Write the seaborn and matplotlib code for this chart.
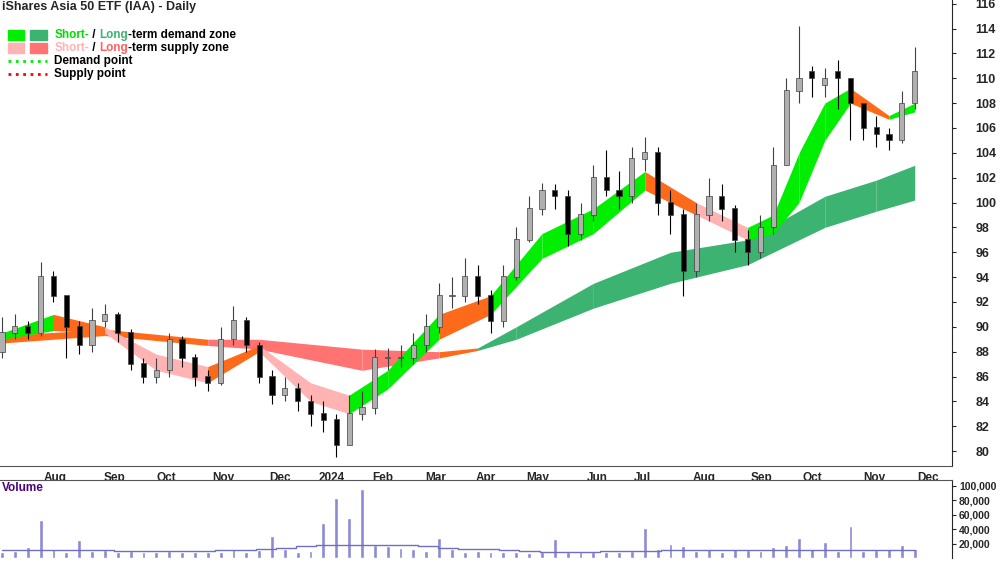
import matplotlib
matplotlib.use("Agg")
import matplotlib.pyplot as plt
import numpy as np
import seaborn as sns

sns.set_style("white")
plt.rcParams['font.family'] = ['Liberation Sans', 'DejaVu Sans']

# weekly candles
close = [89.5, 90.0, 89.5, 94.0, 92.5, 90.0, 88.5, 90.5, 91.0, 89.5, 87.0, 86.0,
         86.5, 89.0, 87.5, 86.0, 85.5, 89.0, 90.5, 88.5, 86.0, 84.5, 85.0, 84.0,
         83.0, 82.5, 80.5, 83.0, 83.5, 87.5, 87.5, 87.5, 88.5, 90.0, 92.5, 92.5,
         94.0, 92.5, 90.5, 94.0, 97.0, 99.5, 101.0, 100.5, 97.5, 99.0, 102.0, 101.0,
         100.5, 103.5, 104.0, 100.0, 99.0, 94.5, 99.0, 100.5, 99.5, 97.0, 96.0, 98.0,
         103.0, 109.0, 110.0, 110.0, 110.0, 110.0, 108.0, 106.0, 105.5, 105.0, 108.0, 110.5]
open_ = [88.0, 89.5, 90.0, 89.5, 94.0, 92.5, 90.0, 88.5, 90.5, 91.0, 89.5, 87.0,
         86.0, 86.5, 89.0, 87.5, 86.0, 85.5, 89.0, 90.5, 88.5, 86.0, 84.5, 85.0,
         84.0, 83.0, 82.5, 80.5, 83.0, 83.5, 87.5, 87.5, 87.5, 88.5, 90.0, 92.5,
         92.5, 94.0, 92.5, 90.5, 94.0, 97.0, 99.5, 101.0, 100.5, 97.5, 99.0, 102.0,
         101.0, 100.5, 103.5, 104.0, 100.0, 99.0, 94.5, 99.0, 100.5, 99.5, 97.0, 96.0,
         98.0, 103.0, 109.0, 110.5, 109.5, 110.5, 110.0, 108.0, 106.0, 105.5, 105.0, 108.0]
high = [90.8, 91.0, 90.5, 95.2, 94.5, 92.5, 90.5, 91.5, 91.8, 91.2, 89.8, 87.5,
        87.5, 89.5, 89.3, 87.8, 86.5, 90.0, 91.7, 90.8, 88.8, 86.5, 86.0, 85.5,
        84.5, 84.0, 83.0, 84.5, 84.8, 88.2, 88.3, 88.5, 89.5, 91.0, 93.5, 94.0,
        95.5, 95.0, 93.0, 95.0, 98.0, 100.5, 101.6, 101.5, 101.0, 100.0, 103.0, 104.2,
        102.5, 104.5, 105.3, 104.5, 101.0, 99.5, 100.0, 102.0, 101.5, 99.8, 97.8, 99.0,
        104.5, 110.0, 114.2, 111.0, 110.8, 111.5, 110.0, 107.5, 107.0, 106.0, 109.0, 112.5]
low = [87.5, 89.0, 89.0, 89.3, 92.0, 87.5, 87.8, 88.0, 90.0, 88.8, 86.5, 85.5,
       85.5, 86.0, 86.8, 85.2, 84.8, 85.3, 88.5, 88.0, 85.5, 83.8, 84.0, 83.2,
       82.0, 81.5, 79.5, 80.5, 82.5, 83.0, 86.5, 86.8, 87.0, 88.0, 89.5, 91.5,
       92.0, 91.8, 89.5, 90.0, 93.8, 96.8, 99.0, 99.5, 96.5, 97.0, 98.5, 100.5,
       99.5, 100.0, 102.5, 99.0, 97.5, 92.5, 94.0, 98.5, 98.5, 96.0, 95.0, 95.5,
       97.5, 103.0, 108.0, 108.5, 108.5, 107.5, 105.0, 105.0, 104.5, 104.2, 104.8, 107.5]

# short- and long-term zone edges at sample weeks
short_wk = [0, 4, 8, 12, 16, 20, 24, 27, 30, 34, 38, 42, 46, 50, 54, 58, 60, 62, 64, 66, 69, 71]
short_hi = [89.5, 91.0, 90.0, 87.8, 86.8, 88.5, 85.5, 84.5, 86.5, 91.0, 92.5, 97.5, 99.5, 102.5, 100.0, 98.0, 99.0, 104.0, 108.0, 109.2, 107.0, 108.0]
short_lo = [89.0, 89.7, 89.5, 86.5, 85.5, 88.0, 84.0, 83.0, 85.0, 89.0, 91.0, 95.5, 97.5, 101.0, 99.0, 97.0, 97.5, 100.0, 105.0, 108.0, 106.7, 107.3]
short_col = ['g', 'o', 'p', 'p', 'o', 'p', 'p', 'g', 'g', 'o', 'g', 'g', 'g', 'o', 'p', 'g', 'g', 'g', 'g', 'o', 'g']
long_wk = [0, 8, 16, 20, 28, 34, 37, 40, 46, 52, 58, 64, 68, 71]
long_hi = [89.3, 89.8, 89.0, 89.0, 88.2, 88.0, 88.3, 90.0, 93.5, 96.0, 97.0, 100.5, 101.8, 103.0]
long_lo = [88.7, 89.3, 88.5, 88.2, 86.5, 87.5, 88.1, 89.0, 91.5, 93.5, 95.0, 98.0, 99.3, 100.2]
long_col = ['o', 'o', 'r', 'r', 'r', 'o', 'dg', 'dg', 'dg', 'dg', 'dg', 'dg', 'dg']

volume = [9000, 10000, 15000, 52000, 12000, 9000, 25000, 10000, 11000, 9000, 10000, 8000,
          9000, 10000, 9000, 8000, 9000, 8000, 12000, 9000, 11000, 30000, 12000, 9000,
          10000, 48000, 83000, 55000, 96000, 18000, 16000, 14000, 12000, 10000, 28000, 12000,
          9000, 10000, 8000, 9000, 8000, 7000, 8000, 26000, 9000, 8000, 9000, 8000,
          9000, 10000, 42000, 12000, 20000, 16000, 10000, 12000, 9000, 13000, 11000, 10000,
          15000, 18000, 28000, 12000, 22000, 10000, 45000, 10000, 11000, 12000, 18000, 12000]
vol_avg = [10500, 10500, 10800, 11000, 10800, 10500, 10200, 10000, 9500, 9500, 10000, 11000,
           11500, 12000, 14000, 17000, 18000, 18000, 18000, 18000, 17500, 16500, 14500, 13000,
           12000, 10500, 9500, 9000, 8500, 9000, 9500, 9500, 10000, 11000, 11500, 11500,
           11000, 11000, 11000, 11500, 11500, 11500, 11000, 11000, 11000, 11000]

months = ['Aug', 'Sep', 'Oct', 'Nov', 'Dec', '2024', 'Feb', 'Mar', 'Apr', 'May', 'Jun', 'Jul',
          'Aug', 'Sep', 'Oct', 'Nov', 'Dec']
month_wk = [2.97, 7.58, 11.72, 16.02, 20.47, 24.3, 28.52, 32.66, 36.56, 40.47, 45.16, 48.83,
            53.44, 57.97, 61.95, 66.72, 70.86]

colors = {'g': '#00ee00', 'p': '#ffb3b3', 'o': '#ff6a1a', 'r': '#ff7373', 'dg': '#3cb371'}

fig = plt.figure(figsize=(10, 5.62), dpi=100)
ax = fig.add_axes([0, 1 - 466 / 562, 0.952, 466 / 562])
axv = fig.add_axes([0, 4 / 562, 0.952, 78 / 562])

for wk, hi, lo, cols in [(long_wk, long_hi, long_lo, long_col), (short_wk, short_hi, short_lo, short_col)]:
    for i, c in enumerate(cols):
        ax.fill_between(wk[i:i + 2], lo[i:i + 2], hi[i:i + 2], color=colors[c], lw=0, zorder=2)

weeks = np.arange(len(close))
for w in weeks:
    up = close[w] >= open_[w]
    body_c = '#b0b0b0' if up else 'black'
    ax.vlines(w, low[w], high[w], color='#404040' if up else 'black', lw=0.8, zorder=3)
    ax.bar(w, abs(close[w] - open_[w]) + 0.05, bottom=min(close[w], open_[w]), width=0.4,
           color=body_c, edgecolor='#404040', lw=0.5, zorder=4)

ax.set_xlim(-0.16, 73.9)
ax.set_ylim(78.8, 116.3)
ax.yaxis.tick_right()
ax.set_yticks(range(80, 117, 2))
ax.tick_params(axis='y', length=3, labelsize=9, pad=14)
for lab in ax.get_yticklabels():
    lab.set_fontweight('bold')
ax.set_xticks(month_wk)
ax.set_xticklabels([])
ax.tick_params(axis='x', direction='in', length=3)
for m, x in zip(months, month_wk):
    ax.text(x + 0.3, -0.012, m, transform=ax.get_xaxis_transform(), va='top', ha='left',
            fontsize=8.5, fontweight='bold', clip_on=False)
for s in ['top', 'left']:
    ax.spines[s].set_visible(False)
ax.spines['bottom'].set_color('#555555')

ax.text(0.002, 0.997, 'iShares Asia 50 ETF (IAA) - Daily', transform=ax.transAxes, va='top',
        fontsize=9, fontweight='bold')
leg_y = [0.925, 0.897, 0.869, 0.841]
ax.add_patch(plt.Rectangle((0.008, 0.915), 0.017, 0.02, transform=ax.transAxes, color=colors['g']))
ax.add_patch(plt.Rectangle((0.032, 0.915), 0.017, 0.02, transform=ax.transAxes, color=colors['dg']))
ax.add_patch(plt.Rectangle((0.008, 0.887), 0.017, 0.02, transform=ax.transAxes, color=colors['p']))
ax.add_patch(plt.Rectangle((0.032, 0.887), 0.017, 0.02, transform=ax.transAxes, color=colors['r']))
ax.plot([0.008, 0.049], [leg_y[2], leg_y[2]], ':', color='#00ee00', lw=2, transform=ax.transAxes)
ax.plot([0.008, 0.049], [leg_y[3], leg_y[3]], ':', color='red', lw=2, transform=ax.transAxes)
parts = [[('Short-', '#00dd00'), (' / ', 'black'), ('Long', '#3cb371'), ('-term demand zone', 'black')],
         [('Short-', '#ffb3b3'), (' / ', 'black'), ('Long', '#ff6060'), ('-term supply zone', 'black')],
         [('Demand point', 'black')], [('Supply point', 'black')]]
for y, segs in zip(leg_y, parts):
    t = None
    for s, c in segs:
        if t is None:
            t = ax.text(0.057, y, s, color=c, transform=ax.transAxes, va='center', fontsize=8.5, fontweight='bold')
        else:
            t = ax.annotate(s, xycoords=t, xy=(1, 0), va='bottom', color=c, fontsize=8.5, fontweight='bold')

axv.bar(weeks, volume, width=0.3, color='#8a8ad6', zorder=2)
axv.step(np.linspace(0, 71, len(vol_avg)), vol_avg, where='mid', color='#7070c0', lw=1, zorder=3)
axv.set_xlim(-0.16, 73.9)
axv.set_ylim(0, 108000)
axv.yaxis.tick_right()
axv.set_yticks([20000, 40000, 60000, 80000, 100000])
axv.set_yticklabels(['20,000', '40,000', '60,000', '80,000', '100,000'])
axv.tick_params(axis='y', length=3, labelsize=7.5, pad=2)
for lab in axv.get_yticklabels():
    lab.set_fontweight('bold')
axv.set_xticks([])
for s in ['bottom', 'left']:
    axv.spines[s].set_visible(False)
axv.spines['top'].set_color('#555555')
axv.text(0.002, 0.97, 'Volume', transform=axv.transAxes, va='top', fontsize=8.5,
         fontweight='bold', color='#4b0082')

fig.savefig('out.png', dpi=100)
